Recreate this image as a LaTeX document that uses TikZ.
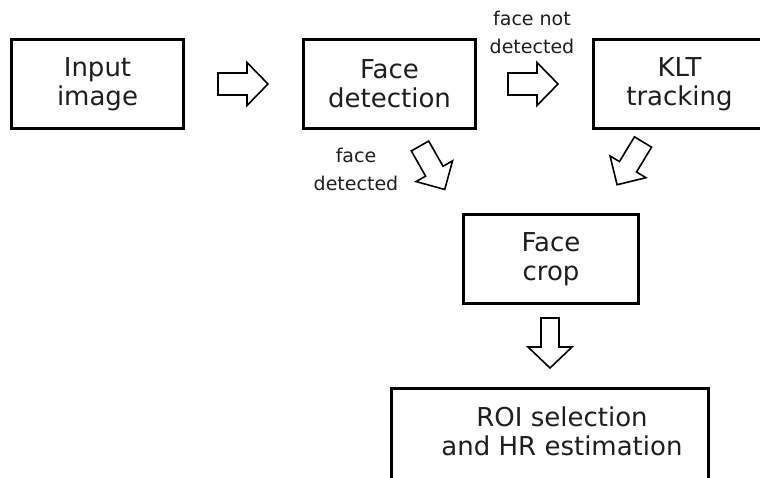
\documentclass[tikz,border=0pt]{standalone}
\usepackage{fontspec}
\setmainfont{DejaVu Sans}
\definecolor{ink}{HTML}{1E1E1E}
\begin{document}
\begin{tikzpicture}[x=1pt,y=-1pt,
  stagebox/.style={draw=black, line width=2.6pt, inner sep=0pt,
    minimum width=172.4pt, minimum height=89.4pt, align=center,
    text=ink, font=\fontsize{26}{29}\selectfont},
  caption/.style={align=center, inner sep=0pt, text=ink,
    font=\fontsize{19}{28}\selectfont},
  arrowline/.style={draw=black, line width=1.6pt, line join=miter, fill=white},
  pics/blockarrow/.style 2 args={code={
    \draw[arrowline] (0,-#1) -- (29,-#1) -- (29,-#2) -- (50,0)
      -- (29,#2) -- (29,#1) -- (0,#1) -- cycle;}}]
\useasboundingbox (0,0) rectangle (760,478);
\clip (0,0) rectangle (760,478);

% processing stages
\node[stagebox] (input) at (97.5,84) {Input\\image};
\node[stagebox] (detect) at (389.5,84) {Face\\detection};
\node[stagebox] (klt) at (679.5,84) {KLT\\tracking};
\node[stagebox, minimum width=175.4pt] (crop) at (551,259) {Face\\crop};
\node[stagebox, minimum width=317.4pt, minimum height=92.4pt] (roi) at (550,434.5) {};
\node[caption, font=\fontsize{26}{29}\selectfont] (roitext) at (562,431) {ROI selection\\and HR estimation};

% branch labels
\node[caption] (notdet) at (532,32) {face not\\detected};
\node[caption] (det) at (356,169) {face\\detected};

% block arrows between stages
\pic at (218,84) {blockarrow={11}{21.5}};
\pic at (508,84) {blockarrow={11}{21.5}};
\pic[rotate=-60.4] at (420,146) {blockarrow={10}{21}};
\pic[rotate=-121.2] at (643,142) {blockarrow={10}{21}};
\pic[rotate=-90] at (550,318) {blockarrow={9}{22}};
\end{tikzpicture}
\end{document}
